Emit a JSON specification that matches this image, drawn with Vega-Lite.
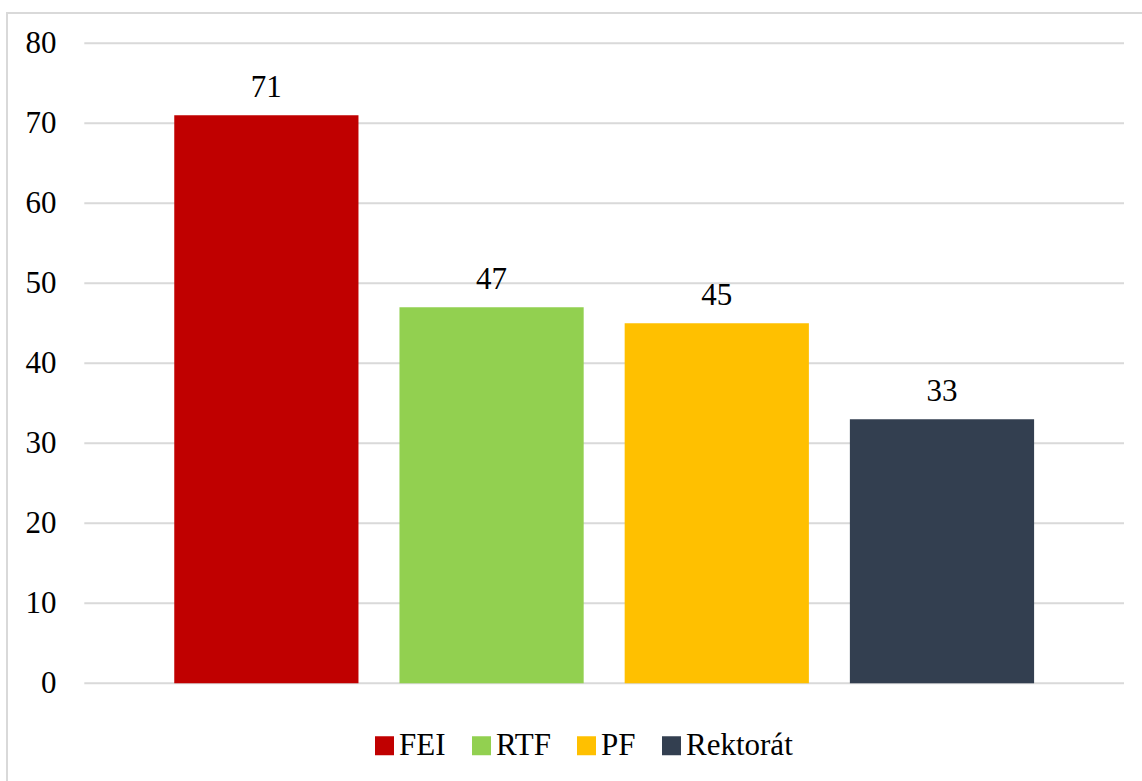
{
  "$schema": "https://vega.github.io/schema/vega-lite/v6.json",
  "width": 1140,
  "height": 770,
  "autosize": {"type": "none"},
  "padding": {"left": 7, "top": 13, "right": -5, "bottom": -2},
  "background": "white",
  "datasets": {
    "bars": [
      {"unit": "FEI", "value": 71},
      {"unit": "RTF", "value": 47},
      {"unit": "PF", "value": 45},
      {"unit": "Rektorát", "value": 33}
    ],
    "ticks": [
      {"tick": 0}, {"tick": 10}, {"tick": 20}, {"tick": 30}, {"tick": 40},
      {"tick": 50}, {"tick": 60}, {"tick": 70}, {"tick": 80}
    ]
  },
  "layer": [
    {
      "data": {"name": "ticks"},
      "mark": {"type": "rule", "color": "#d9d9d9", "strokeWidth": 2},
      "encoding": {
        "x": {"datum": 0, "type": "quantitative", "scale": {"domain": [-0.07435, 1.02212], "nice": false, "zero": false}, "axis": null},
        "x2": {"datum": 1},
        "y": {"field": "tick", "type": "quantitative", "title": null,
              "scale": {"domain": [-12.46, 83.79], "nice": false, "zero": false},
              "axis": {"values": [0, 10, 20, 30, 40, 50, 60, 70, 80]}}
      }
    },
    {
      "data": {"name": "bars"},
      "encoding": {
        "x": {"field": "unit", "type": "nominal", "sort": ["FEI", "RTF", "PF", "Rektorát"],
              "scale": {"paddingInner": 0.182, "paddingOuter": 0.622, "align": 0.597}, "axis": null},
        "y": {"field": "value", "type": "quantitative", "title": null,
              "scale": {"domain": [-12.46, 83.79], "nice": false, "zero": false},
              "axis": {"values": [0, 10, 20, 30, 40, 50, 60, 70, 80]}}
      },
      "layer": [
        {
          "mark": {"type": "bar"},
          "encoding": {
            "y2": {"datum": 0},
            "color": {"field": "unit", "type": "nominal", "title": null,
                      "sort": ["FEI", "RTF", "PF", "Rektorát"],
                      "scale": {"domain": ["FEI", "RTF", "PF", "Rektorát"],
                                "range": ["#C00000", "#92D050", "#FFC000", "#333F50"]},
                      "legend": {"orient": "none", "legendX": 362, "legendY": 717, "direction": "horizontal"}}
          }
        },
        {
          "mark": {"type": "text", "font": "Liberation Serif", "fontSize": 31, "color": "#000000", "baseline": "alphabetic", "dy": -18},
          "encoding": {
            "text": {"field": "value", "type": "quantitative"}
          }
        }
      ]
    }
  ],
  "resolve": {"scale": {"x": "independent"}},
  "config": {
    "view": {"stroke": "#d9d9d9", "strokeWidth": 2},
    "axisY": {
      "grid": false, "domain": false, "ticks": false,
      "offset": -49, "labelPadding": 0,
      "labelFont": "Liberation Serif", "labelFontSize": 31, "labelColor": "#000000"
    },
    "legend": {
      "symbolType": "square", "symbolSize": 361, "symbolStrokeWidth": 0, "symbolOpacity": 1,
      "labelFont": "Liberation Serif", "labelFontSize": 31, "labelColor": "#000000",
      "labelOffset": -1, "columnPadding": 20, "padding": 0
    }
  }
}
